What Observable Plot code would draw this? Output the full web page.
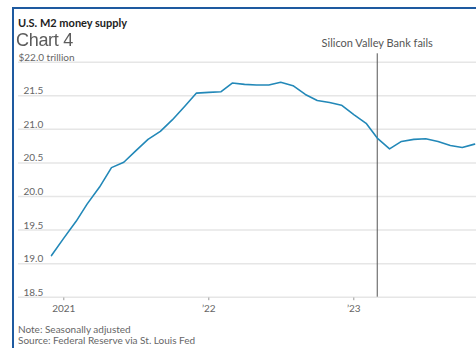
<!DOCTYPE html>
<html>
<head>
<meta charset="utf-8">
<script src="https://cdn.jsdelivr.net/npm/d3@7"></script>
<script src="https://cdn.jsdelivr.net/npm/@observablehq/plot@0.6"></script>
<style>
  html, body { margin: 0; padding: 0; background: #fff; overflow: hidden; width: 476px; height: 348px; }
  #frame { position: absolute; left: 12px; top: 7px; width: 470px; height: 350px;
           border-left: 2px solid #1e5aa0; border-top: 2px solid #1e5aa0; }
  .t { position: absolute; white-space: nowrap; font-family: Lato, sans-serif; }
  #title { left: 18px; top: 15.6px; font-size: 11px; font-weight: bold; color: #222; }
  #chart4 { left: 16px; top: 29.5px; font-family: "Liberation Sans", Arial, sans-serif; font-size: 18px;
            color: #5c5c5c; filter: blur(0.5px); z-index: 3; letter-spacing: -0.3px; }
  #plot { position: absolute; left: 0; top: 28px; }
  #note { left: 18px; top: 323px; font-size: 10px; color: #666; }
  #source { left: 18px; top: 334px; font-size: 10px; color: #666; }
</style>
</head>
<body>
<div id="frame"></div>
<div class="t" id="title">U.S. M2 money supply</div>
<div class="t" id="chart4">Chart 4</div>
<div id="plot"></div>
<div class="t" id="note">Note: Seasonally adjusted</div>
<div class="t" id="source">Source: Federal Reserve via St. Louis Fed</div>
<script>
// Monthly M2, trillions of dollars
const months = [
  "2020-12","2021-01","2021-02","2021-03","2021-04","2021-05","2021-06","2021-07","2021-08","2021-09","2021-10","2021-11","2021-12",
  "2022-01","2022-02","2022-03","2022-04","2022-05","2022-06","2022-07","2022-08","2022-09","2022-10","2022-11","2022-12",
  "2023-01","2023-02","2023-03","2023-04","2023-05","2023-06","2023-07","2023-08","2023-09","2023-10","2023-11"
];
const m2 = [
  19.12, 19.38, 19.63, 19.89, 20.14, 20.43, 20.51, 20.68, 20.85, 20.97, 21.14, 21.34, 21.54,
  21.55, 21.56, 21.69, 21.67, 21.66, 21.66, 21.70, 21.65, 21.52, 21.43, 21.40, 21.36,
  21.22, 21.09, 20.87, 20.71, 20.82, 20.85, 20.86, 20.82, 20.76, 20.73, 20.78
];
const yTicks = [18.5, 19.0, 19.5, 20.0, 20.5, 21.0, 21.5];
const yTopTick = 22.0;
const yTopLabel = "$22.0 trillion";
const xTicks = ["2021-01-01", "2022-01-01", "2023-01-01"];
const xTickLabels = ["2021", "\u201922", "\u201923"];
const eventDate = "2023-03-01";
const eventLabel = "Silicon Valley Bank fails";

const data = months.map((m, i) => ({date: new Date(m + "-01"), value: m2[i]}));
const xt = xTicks.map((d, i) => ({date: new Date(d), label: xTickLabels[i]}));
const ev = [{date: new Date(eventDate), label: eventLabel}];
const yMin = yTicks[0];

const chart = Plot.plot({
  width: 476,
  height: 290,
  marginLeft: 18,
  marginRight: 0,
  marginTop: 33.7,
  marginBottom: 21.3,
  style: {fontFamily: "Lato, sans-serif", background: "transparent", overflow: "hidden"},
  x: {type: "utc", axis: null, domain: [new Date("2021-01-01"), new Date("2023-01-01")], range: [63.3, 353.3]},
  y: {type: "linear", axis: null, domain: [yMin, yTopTick]},
  marks: [
    Plot.ruleY([...yTicks, yTopTick], {y: d => d, stroke: "#e6e6e6", strokeWidth: 1.5}),
    Plot.text(yTicks, {y: d => d, text: d => d.toFixed(1), frameAnchor: "left", textAnchor: "start",
      lineAnchor: "bottom", dx: 5, dy: -1.5, fontSize: 10, fill: "#666"}),
    Plot.text([yTopTick], {y: d => d, text: () => yTopLabel, frameAnchor: "left", textAnchor: "start",
      lineAnchor: "bottom", dx: 0, dy: -1.5, fontSize: 10, fill: "#666"}),
    Plot.ruleX(xt, {x: "date", y1: yMin, y2: yMin, insetTop: 0.8, insetBottom: -3.5, stroke: "#999", strokeWidth: 1}),
    Plot.text(xt, {x: "date", text: "label", frameAnchor: "bottom", lineAnchor: "top", dy: 8, fontSize: 10, fill: "#666"}),
    Plot.ruleX(ev, {x: "date", stroke: "#555", strokeWidth: 1, insetTop: -8.4}),
    Plot.text(ev, {x: "date", text: "label", frameAnchor: "top", lineAnchor: "bottom", dy: -15.7, fontSize: 11, fill: "#555"}),
    Plot.line(data, {x: "date", y: "value", stroke: "#2288b8", strokeWidth: 1.6, clip: true})
  ]
});
document.getElementById("plot").appendChild(chart);
</script>
</body>
</html>
